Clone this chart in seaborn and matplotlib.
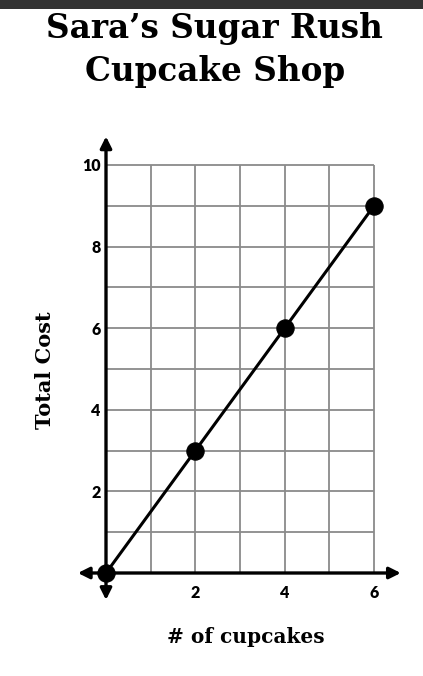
import matplotlib
matplotlib.use("Agg")
import matplotlib.pyplot as plt
import seaborn as sns
import pandas as pd

# Data
cupcakes = [0, 2, 4, 6]
total_cost = [0, 3, 6, 9]
x_ticks = [2, 4, 6]
y_ticks = [2, 4, 6, 8, 10]
grid_x = [0, 1, 2, 3, 4, 5, 6]
grid_y = [0, 1, 2, 3, 4, 5, 6, 7, 8, 9, 10]
title = "Sara\u2019s Sugar Rush\nCupcake Shop"
x_label = "# of cupcakes"
y_label = "Total Cost"

df = pd.DataFrame({"cupcakes": cupcakes, "cost": total_cost})

sns.set_theme(style="white")
plt.rcParams["font.family"] = ["DejaVu Sans"]
plt.rcParams["text.color"] = "black"
plt.rcParams["xtick.color"] = "black"
plt.rcParams["ytick.color"] = "black"

fig = plt.figure(figsize=(4.23, 6.76), dpi=100)
fig.patch.set_facecolor("white")

# dark top bar
fig.patches.append(plt.Rectangle((0, 1 - 9 / 676), 1, 9 / 676, transform=fig.transFigure,
                                 facecolor="#333333", edgecolor="none", zorder=0))

fig.text(0.508, 1 - 50 / 676, title, ha="center", va="center", fontsize=23.5,
         fontweight="bold", family="DejaVu Serif", linespacing=1.38, color="black")

ax = fig.add_axes([106 / 423, (676 - 573) / 676, 268 / 423, 408 / 676])
ax.set_xlim(0, 6)
ax.set_ylim(0, 10)
for s in ax.spines.values():
    s.set_visible(False)
ax.grid(False)

# grid lines
ax.vlines(grid_x, 0, 10, color="#8a8a8a", linewidth=1.3, clip_on=False, zorder=1)
ax.hlines(grid_y, 0, 6, color="#8a8a8a", linewidth=1.3, clip_on=False, zorder=1)

ax.set_xticks(x_ticks)
ax.set_yticks(y_ticks)
ax.set_xticklabels([str(t) for t in x_ticks], fontweight="heavy", family="Lato", fontsize=11.5)
ax.set_yticklabels([str(t) for t in y_ticks], fontweight="heavy", family="Lato", fontsize=11.5)
ax.tick_params(axis="both", which="both", length=0)
ax.tick_params(axis="x", pad=9)
ax.tick_params(axis="y", pad=4)

# axes arrows
arrow_kw = dict(arrowstyle="<|-|>", color="black", lw=2.4, mutation_scale=17,
                shrinkA=0, shrinkB=0)
ax.annotate("", xy=(6.6, 0), xytext=(-0.63, 0), arrowprops=arrow_kw,
            annotation_clip=False, zorder=3)
ax.annotate("", xy=(0, 10.7), xytext=(0, -0.66), arrowprops=arrow_kw,
            annotation_clip=False, zorder=3)

sns.lineplot(data=df, x="cupcakes", y="cost", ax=ax, color="black", linewidth=2.2,
             marker="o", markersize=12.5, markeredgecolor="black", clip_on=False, zorder=5)

ax.set_xlabel("")
ax.set_ylabel("")
fig.text(246 / 423, 1 - 637 / 676, x_label, ha="center", va="center", fontsize=14.5,
         fontweight="bold", family="DejaVu Serif", color="black")
fig.text(45 / 423, 1 - 370 / 676, y_label, ha="center", va="center", rotation=90,
         fontsize=15, fontweight="bold", family="DejaVu Serif", color="black")

fig.savefig("out.png", dpi=100)
